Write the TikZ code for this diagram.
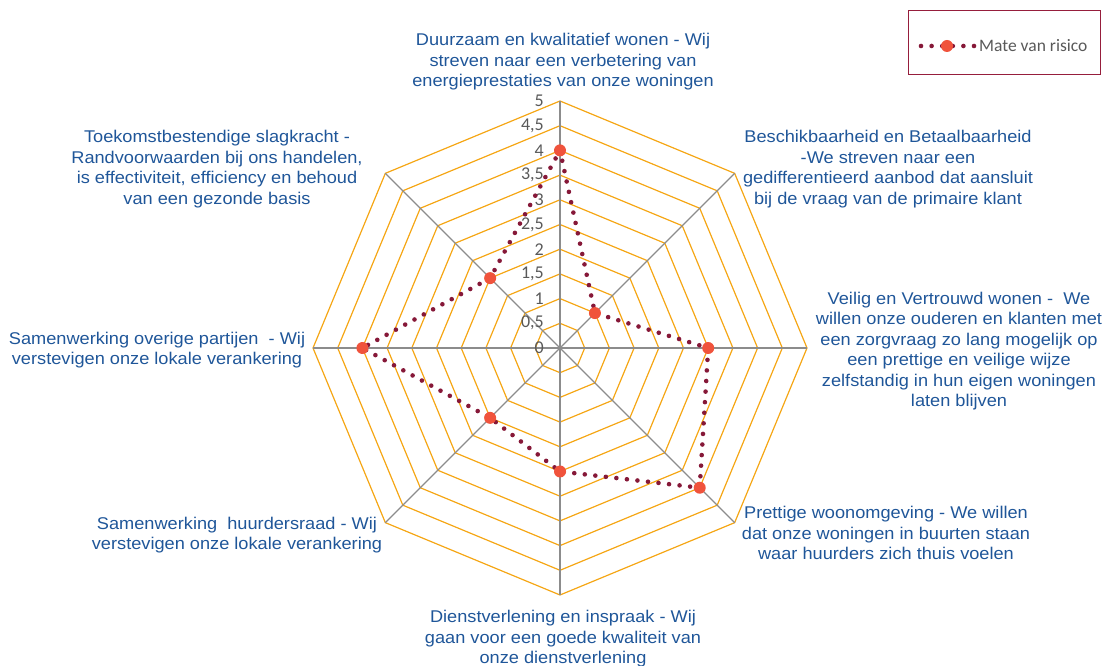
\documentclass[tikz,border=0pt]{standalone}
\usepackage{fontspec}
\setmainfont{Liberation Sans}
\newfontfamily\labfont[FakeStretch=1.07]{Liberation Sans}
\newfontfamily\calib{Carlito}
\usetikzlibrary{calc}
\definecolor{gridc}{RGB}{245,166,20}
\definecolor{axisc}{RGB}{140,140,140}
\definecolor{serc}{RGB}{134,24,56}
\definecolor{markc}{RGB}{240,83,60}
\definecolor{labc}{RGB}{31,86,153}
\definecolor{tickc}{RGB}{89,89,89}
\definecolor{legc}{RGB}{150,30,60}
\tikzset{
  gridline/.style={draw=gridc,line width=1.2pt},
  axisline/.style={draw=axisc,line width=1.3pt},
  series/.style={draw=serc,line width=4.6pt,line cap=round,dash pattern=on 0pt off 10.6pt},
  marker/.style={circle,fill=markc,inner sep=0pt,minimum size=12pt},
  catlabel/.style={text=labc,align=center,font=\labfont\fontsize{17}{20.5}\selectfont,inner sep=0pt},
  ticklabel/.style={text=tickc,anchor=east,font=\calib\fontsize{18}{18}\selectfont,inner sep=0pt},
}
\begin{document}
\begin{tikzpicture}[x=1pt,y=1pt]
\useasboundingbox (0,0) rectangle (1105,666);
\coordinate (C) at (560,318);
% grid octagons
\foreach \r in {1,...,10}{
  \draw[gridline] ($(C)+(90:\r*24.7)$) \foreach \a in {45,0,-45,-90,-135,-180,-225}{ -- ($(C)+(\a:\r*24.7)$)} -- cycle;
}
% axes
\foreach \a [count=\i] in {90,45,0,-45,-90,-135,-180,-225}{
  \coordinate (ax\i) at ($(C)+(\a:247)$);
  \draw[axisline] (C) -- (ax\i);
}
% tick labels
\foreach \v/\t in {0/0,1/{0,5},2/1,3/{1,5},4/2,5/{2,5},6/3,7/{3,5},8/4,9/{4,5},10/5}{
  \node[ticklabel] (tk\v) at (544,318+\v*24.7) {\t};
}
% data points
\foreach \a/\v [count=\i] in {90/4,45/1,0/3,-45/4,-90/2.5,-135/2,-180/4,-225/2}{
  \coordinate (p\i) at ($(C)+(\a:\v*49.4)$);
}
\draw[series] (p1) -- (p2) -- (p3) -- (p4) -- (p5) -- (p6) -- (p7) -- (p8) -- cycle;
\foreach \i in {1,...,8}{ \node[marker] (m\i) at (p\i) {}; }
% category labels
\node[catlabel] (l1) at (563,604) {Duurzaam en kwalitatief wonen - Wij\\streven naar een verbetering van\\energieprestaties van onze woningen};
\node[catlabel] (l2) at (888,497) {Beschikbaarheid en Betaalbaarheid\\-We streven naar een\\gedifferentieerd aanbod dat aansluit\\bij de vraag van de primaire klant};
\node[catlabel] (l3) at (959,315) {Veilig en Vertrouwd wonen -\ \ We\\willen onze ouderen en klanten met\\een zorgvraag zo lang mogelijk op\\een prettige en veilige wijze\\zelfstandig in hun eigen woningen\\laten blijven};
\node[catlabel] (l4) at (886,133) {Prettige woonomgeving - We willen\\dat onze woningen in buurten staan\\waar huurders zich thuis voelen};
\node[catlabel] (l5) at (563,27) {Dienstverlening en inspraak - Wij\\gaan voor een goede kwaliteit van\\onze dienstverlening};
\node[catlabel] (l6) at (237,131) {Samenwerking\ \ huurdersraad - Wij\\verstevigen onze lokale verankering};
\node[catlabel] (l7) at (157,316) {Samenwerking overige partijen\ \ - Wij\\verstevigen onze lokale verankering};
\node[catlabel] (l8) at (217,497) {Toekomstbestendige slagkracht -\\Randvoorwaarden bij ons handelen,\\is effectiviteit, efficiency en behoud\\van een gezonde basis};
% legend
\node[draw=legc,line width=1pt,minimum width=192pt,minimum height=64pt,inner sep=0pt] (leg) at (1004,623) {};
\coordinate (ls) at (921,620);
\coordinate (le) at (975,620);
\draw[series] (ls) -- (le);
\node[marker] (lm) at (947,620) {};
\node[text=tickc,anchor=west,font=\calib\fontsize{17.5}{18}\selectfont,inner sep=0pt] (lt) at (979,620) {Mate van risico};
\end{tikzpicture}
\end{document}
